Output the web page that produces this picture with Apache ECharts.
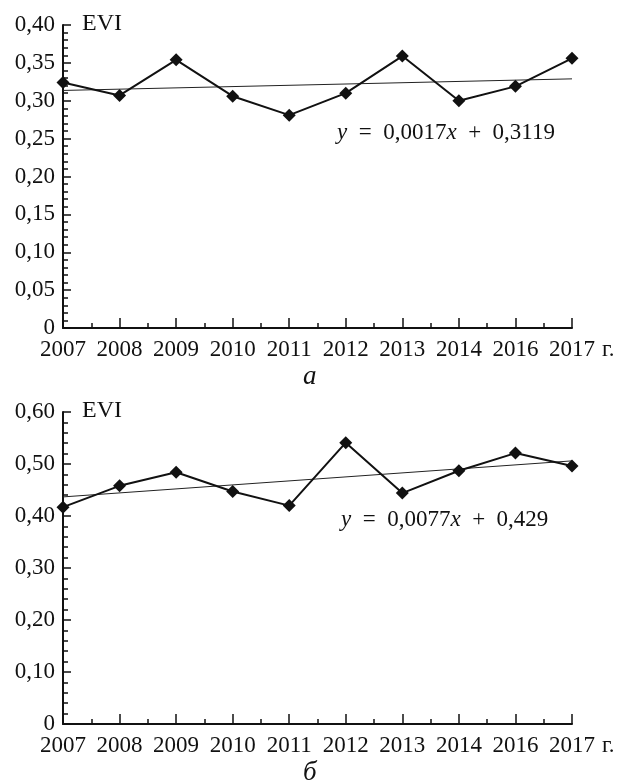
<!DOCTYPE html>
<html>
<head>
<meta charset="utf-8">
<script src="https://cdn.jsdelivr.net/npm/echarts@6/dist/echarts.min.js"></script>
<style>html,body{margin:0;padding:0;background:#fff;}#c{width:619px;height:782px;}</style>
</head>
<body>
<div id="c"></div>
<script>
const years = ['2007','2008','2009','2010','2011','2012','2013','2014','2016','2017'];
const eviA = [0.324, 0.307, 0.354, 0.306, 0.281, 0.310, 0.359, 0.300, 0.319, 0.356];
const eviB = [0.417, 0.458, 0.484, 0.447, 0.420, 0.541, 0.444, 0.487, 0.521, 0.496];
const trendA = [0.3136, 0.3289];
const trendB = [0.4367, 0.5060];
const yTicksA = ['0','0,05','0,10','0,15','0,20','0,25','0,30','0,35','0,40'];
const yTicksB = ['0','0,10','0,20','0,30','0,40','0,50','0,60'];
const eqA = '{i|y}  =  0,0017{i|x}  +  0,3119';
const eqB = '{i|y}  =  0,0077{i|x}  +  0,429';

const FONT = 'Liberation Serif';
const FS = 23;
const INK = '#111';

function pts(vals){ return vals.map((v,i)=>[i,v]); }
function trendPts(t){ return [[0,t[0]],[years.length-1,t[1]]]; }

function xAx(gi){
  return {
    type:'value', gridIndex:gi, min:0, max:years.length-1, interval:1,
    axisLine:{show:true, lineStyle:{color:INK, width:2}},
    axisTick:{show:true, inside:true, length:10, lineStyle:{color:INK, width:1.5}},
    minorTick:{show:true, splitNumber:2, length:5, lineStyle:{color:INK, width:1.5}},
    splitLine:{show:false},
    axisLabel:{color:INK, fontFamily:FONT, fontSize:FS, margin:10,
      formatter:(v)=>years[Math.round(v)] || ''}
  };
}
function yAx(gi, step, max, labels){
  return {
    type:'value', gridIndex:gi, min:0, max:max, interval:step,
    axisLine:{show:true, lineStyle:{color:INK, width:2}},
    axisTick:{show:true, inside:true, length:8, lineStyle:{color:INK, width:1.5}},
    minorTick:{show:true, splitNumber:5, length:5, lineStyle:{color:INK, width:1.5}},
    splitLine:{show:false},
    axisLabel:{color:INK, fontFamily:FONT, fontSize:FS, margin:8,
      formatter:(v)=>labels[Math.round(v/step)]}
  };
}
function dataSeries(idx, vals){
  return {type:'line', xAxisIndex:idx, yAxisIndex:idx, data:pts(vals),
    symbol:'diamond', symbolSize:13, itemStyle:{color:INK},
    lineStyle:{color:INK, width:2}, z:3, animation:false};
}
function trendSeries(idx, t){
  return {type:'line', xAxisIndex:idx, yAxisIndex:idx, data:trendPts(t),
    symbol:'none', lineStyle:{color:'#222', width:1}, z:2, animation:false};
}
const F = FS + 'px "' + FONT + '"';
const richI = {i:{fontStyle:'italic', fontFamily:FONT, fontSize:FS}};

const chart = echarts.init(document.getElementById('c'));
chart.setOption({
  animation:false,
  grid:[
    {left:63, right:47, top:25, height:303},
    {left:63, right:47, top:412, height:312}
  ],
  xAxis:[xAx(0), xAx(1)],
  yAxis:[yAx(0,0.05,0.40,yTicksA), yAx(1,0.10,0.60,yTicksB)],
  series:[trendSeries(0,trendA), dataSeries(0,eviA), trendSeries(1,trendB), dataSeries(1,eviB)],
  graphic:[
    {type:'text', left:82, top:12, style:{text:'EVI', fill:INK, font:'24px "'+FONT+'"'}},
    {type:'text', left:82, top:399, style:{text:'EVI', fill:INK, font:'24px "'+FONT+'"'}},
    {type:'text', left:602, top:338, style:{text:'г.', fill:INK, font:F}},
    {type:'text', left:602, top:734, style:{text:'г.', fill:INK, font:F}},
    {type:'text', left:337, top:121, style:{text:eqA, fill:INK, font:F, rich:richI}},
    {type:'text', left:341, top:508, style:{text:eqB, fill:INK, font:F, rich:richI}},
    {type:'text', left:303, top:363, style:{text:'а', fill:INK, font:'italic 27px "'+FONT+'"'}},
    {type:'text', left:303, top:759, style:{text:'б', fill:INK, font:'italic 27px "'+FONT+'"'}}
  ]
});
</script>
</body>
</html>
